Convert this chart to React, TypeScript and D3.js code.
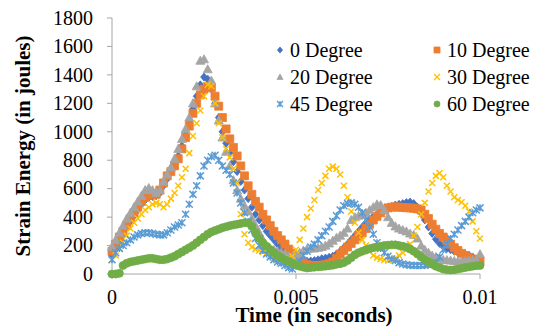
import React from 'react';
import * as d3 from 'd3';

const W = 538;
const H = 327;
const margin = { left: 112, right: 58, top: 18, bottom: 53 };

// time step 0.0001 s, 101 samples
const times = d3.range(0, 101).map(i => +(i * 0.0001).toFixed(4));

const deg0 = [130, 180, 230, 280, 330, 370, 410, 450, 490, 520, 540, 545, 550, 570, 620, 670, 720, 770, 830, 900,
  980, 1070, 1160, 1250, 1330, 1385, 1370, 1300, 1200, 1100, 1000, 920, 850, 790, 720, 650, 590, 530, 470, 420,
  380, 340, 300, 270, 240, 210, 180, 150, 125, 110, 100, 95, 92, 90, 92, 95, 100, 108, 112, 118,
  125, 140, 160, 185, 210, 240, 270, 300, 330, 360, 385, 405, 420, 432, 445, 460, 475, 485, 490, 495,
  502, 506, 495, 470, 430, 380, 330, 285, 245, 215, 195, 180, 170, 160, 150, 142, 138, 132, 120, 105, 95];

const deg10 = [160, 210, 260, 300, 340, 390, 430, 470, 510, 540, 560, 555, 560, 590, 640, 690, 720, 760, 810, 880,
  960, 1040, 1130, 1200, 1260, 1300, 1320, 1310, 1250, 1180, 1100, 1020, 950, 890, 830, 760, 690, 620, 560, 510,
  470, 420, 380, 340, 300, 270, 240, 210, 175, 145, 115, 90, 75, 65, 60, 58, 60, 62, 65, 72,
  84, 110, 140, 165, 190, 215, 240, 265, 290, 320, 350, 380, 405, 430, 450, 465, 470, 472, 470, 468,
  466, 465, 462, 458, 450, 420, 390, 350, 315, 285, 260, 235, 210, 185, 165, 145, 130, 115, 105, 95, 90];

const deg20 = [190, 240, 290, 340, 390, 430, 470, 510, 550, 590, 605, 590, 570, 590, 650, 700, 750, 810, 880, 950,
  1020, 1100, 1200, 1320, 1500, 1510, 1440, 1360, 1200, 1080, 960, 860, 760, 660, 590, 530, 480, 440, 390, 340,
  290, 240, 200, 180, 170, 160, 150, 140, 125, 120, 130, 150, 165, 175, 180, 180, 185, 190, 200, 215,
  235, 255, 270, 290, 320, 380, 400, 410, 420, 430, 450, 470, 490, 485, 450, 400, 360, 335, 320, 310,
  300, 285, 275, 250, 200, 170, 150, 130, 120, 110, 100, 98, 95, 92, 90, 90, 92, 95, 95, 100, 140];

const deg30 = [100, 130, 180, 220, 270, 320, 360, 390, 420, 450, 470, 490, 500, 490, 470, 490, 530, 570, 620, 680,
  740, 850, 970, 1060, 1150, 1250, 1330, 1320, 1200, 1060, 960, 880, 820, 740, 640, 420, 280, 220, 190, 175,
  165, 155, 148, 130, 110, 100, 95, 100, 110, 125, 170, 240, 320, 400, 460, 520, 590, 640, 690, 740,
  755, 740, 700, 620, 540, 440, 360, 290, 240, 200, 160, 130, 115, 105, 98, 95, 100, 110, 130, 150,
  170, 210, 270, 330, 420, 500, 580, 640, 690, 710, 680, 620, 580, 540, 520, 505, 480, 440, 370, 300, 250];

const deg45 = [100, 150, 180, 200, 220, 240, 260, 275, 285, 290, 290, 285, 280, 275, 275, 290, 310, 330, 345, 360,
  420, 490, 560, 620, 690, 760, 800, 825, 835, 800, 760, 730, 700, 640, 570, 500, 430, 370, 310, 250,
  200, 165, 140, 120, 100, 85, 75, 60, 45, 35, 55, 90, 130, 160, 190, 210, 240, 270, 300, 330,
  370, 410, 450, 480, 495, 500, 490, 470, 430, 380, 330, 280, 220, 180, 150, 125, 105, 95, 80, 70,
  65, 62, 60, 60, 60, 62, 65, 70, 80, 120, 170, 210, 250, 280, 310, 340, 370, 400, 430, 450, 465];

const deg60 = [0, 0, 5, 60, 75, 85, 90, 95, 100, 105, 110, 110, 105, 100, 100, 105, 115, 125, 140, 155,
  170, 185, 200, 220, 240, 260, 280, 295, 305, 315, 325, 332, 340, 345, 350, 355, 360, 358, 335, 290,
  250, 220, 195, 170, 150, 130, 115, 100, 90, 75, 65, 55, 48, 42, 45, 48, 50, 52, 55, 58,
  62, 68, 72, 80, 95, 115, 135, 150, 160, 170, 178, 185, 190, 195, 200, 203, 205, 205, 200, 195,
  188, 175, 160, 140, 120, 100, 85, 70, 55, 45, 35, 30, 28, 30, 35, 40, 45, 50, 55, 58, 60];

const seriesNames = ['0 Degree', '10 Degree', '20 Degree', '30 Degree', '45 Degree', '60 Degree'];
const seriesValues = [deg0, deg10, deg20, deg30, deg45, deg60];
const colors = ['#4472C4', '#ED7D31', '#A5A5A5', '#FFC000', '#5B9BD5', '#70AD47'];
const shapes = ['diamond', 'square', 'triangle', 'x', 'star', 'circle'];

const xTicks = [0, 0.005, 0.01];
const yTicks = d3.range(0, 1801, 200);

// marker path centred on 0,0
function marker(shape: string, s: number) {
  const h = s / 2;
  if (shape === 'diamond') return `M0,${-h}L${h * 0.85},0L0,${h}L${-h * 0.85},0Z`;
  if (shape === 'square') return `M${-h},${-h}H${h}V${h}H${-h}Z`;
  if (shape === 'triangle') return `M0,${-h}L${h},${h * 0.8}L${-h},${h * 0.8}Z`;
  if (shape === 'x') return `M${-h},${-h}L${h},${h}M${h},${-h}L${-h},${h}`;
  if (shape === 'star') return `M${-h},${-h}L${h},${h}M${h},${-h}L${-h},${h}M0,${-h}V${h}`;
  return d3.symbol().type(d3.symbolCircle).size(Math.PI * h * h)() as string;
}

const sizes = [8, 8, 9, 6, 7, 8];

export default function App() {
  const x = d3.scaleLinear().domain([0, 0.01]).range([margin.left, W - margin.right]);
  const y = d3.scaleLinear().domain([0, 1800]).range([H - margin.bottom, margin.top]);
  const axisColor = '#A6A6A6';
  const font = "'Times New Roman', 'Liberation Serif', serif";

  return (
    <div style={{ position: 'absolute', left: 0, top: 0, width: W, height: H, fontFamily: font }}>
      <svg width={W} height={H} style={{ display: 'block', background: '#fff' }}>
        {/* y axis */}
        <line x1={x(0)} x2={x(0)} y1={y(0)} y2={y(1800)} stroke={axisColor} />
        {yTicks.map(t => (
          <g key={'y' + t}>
            <line x1={x(0) - 5} x2={x(0)} y1={y(t)} y2={y(t)} stroke={axisColor} />
            <text x={x(0) - 19} y={y(t)} dy="0.34em" textAnchor="end" fontSize={20} fill="#000">{t}</text>
          </g>
        ))}
        {/* x axis */}
        <line x1={x(0)} x2={x(0.01)} y1={y(0)} y2={y(0)} stroke={axisColor} />
        {xTicks.map(t => (
          <g key={'x' + t}>
            <line x1={x(t)} x2={x(t)} y1={y(0)} y2={y(0) + 5} stroke={axisColor} />
            <text x={x(t)} y={y(0) + 30} textAnchor="middle" fontSize={20} fill="#000">{t}</text>
          </g>
        ))}

        {/* series */}
        {seriesValues.map((vals, si) => {
          const sh = shapes[si];
          const d = marker(sh, sizes[si]);
          const stroked = sh === 'x' || sh === 'star';
          return (
            <g key={'s' + si}>
              {vals.map((v, i) => (
                <path key={i} d={d} transform={`translate(${x(times[i])},${y(v)})`}
                  fill={stroked ? 'none' : colors[si]}
                  stroke={colors[si]} strokeWidth={stroked ? 1.5 : 0.8} />
              ))}
            </g>
          );
        })}

        {/* legend */}
        {seriesNames.map((n, i) => {
          const col = i % 2;
          const row = Math.floor(i / 2);
          const lx = col === 0 ? 280 : 437;
          const ly = 50 + row * 27;
          const sh = shapes[i];
          const stroked = sh === 'x' || sh === 'star';
          return (
            <g key={'l' + i}>
              <path d={marker(sh, 6)} transform={`translate(${lx},${ly})`}
                fill={stroked ? 'none' : colors[i]} stroke={colors[i]} strokeWidth={stroked ? 1.3 : 0.8} />
              <text x={lx + 10} y={ly} dy="0.34em" fontSize={20} fill="#000">{n}</text>
            </g>
          );
        })}

        {/* titles */}
        <text x={314} y={322} textAnchor="middle" fontSize={21} fontWeight="bold" fill="#000">
          Time (in seconds)
        </text>
        <text transform={`translate(30,${(y(0) + y(1800)) / 2}) rotate(-90)`} textAnchor="middle"
          fontSize={21} fontWeight="bold" fill="#000">Strain Energy (in joules)</text>
      </svg>
    </div>
  );
}
